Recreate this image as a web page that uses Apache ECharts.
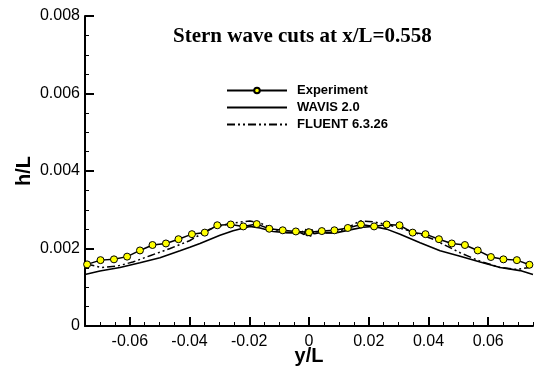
<!DOCTYPE html>
<html>
<head>
<meta charset="utf-8">
<script src="https://cdn.jsdelivr.net/npm/echarts@6/dist/echarts.min.js"></script>
<style>
  html, body { margin: 0; padding: 0; background: #fff; }
  #chart { width: 537px; height: 369px; }
</style>
</head>
<body>
<div id="chart"></div>
<script>
// Measured free-surface elevation across the stern wave cut (y/L, h/L)
const expY = [-0.0743, -0.0698, -0.0653, -0.0609, -0.0566, -0.0524, -0.0479, -0.0437, -0.0392,
  -0.0349, -0.0307, -0.0262, -0.0220, -0.0175, -0.0133, -0.0088, -0.0044, 0,
  0.0043, 0.0085, 0.0130, 0.0174, 0.0218, 0.0260, 0.0303, 0.0347, 0.0390,
  0.0435, 0.0478, 0.0522, 0.0565, 0.0609, 0.0651, 0.0696, 0.0738];
const expH = [0.00159, 0.00170, 0.00172, 0.00179, 0.00195, 0.00209, 0.00213, 0.00224, 0.00237,
  0.00241, 0.00260, 0.00262, 0.00257, 0.00263, 0.00251, 0.00247, 0.00244, 0.00242,
  0.00245, 0.00247, 0.00253, 0.00262, 0.00257, 0.00262, 0.00260, 0.00241, 0.00237,
  0.00224, 0.00213, 0.00209, 0.00195, 0.00178, 0.00172, 0.00170, 0.00158];

// WAVIS 2.0 computed wave cut
const wavisY = [-0.0750, -0.0700, -0.0633, -0.0566, -0.0499, -0.0432, -0.0399, -0.0365, -0.0298,
  -0.0254, -0.0198, -0.0164, -0.0120, -0.0075, -0.0030, -0.0016, -0.0010, -0.0005,
  0.0000, 0.0005, 0.0010, 0.0016, 0.0037, 0.0093, 0.0137, 0.0182, 0.0215,
  0.0260, 0.0305, 0.0372, 0.0439, 0.0506, 0.0573, 0.0640, 0.0707, 0.0750];
const wavisH = [0.00133, 0.00142, 0.00151, 0.00163, 0.00176, 0.00194, 0.00203, 0.00213, 0.00234,
  0.00246, 0.00257, 0.00253, 0.00244, 0.00241, 0.00241, 0.00236, 0.00250, 0.00232,
  0.00248, 0.00231, 0.00249, 0.00238, 0.00241, 0.00241, 0.00248, 0.00255, 0.00257,
  0.00250, 0.00237, 0.00215, 0.00194, 0.00180, 0.00165, 0.00151, 0.00143, 0.00133];

// FLUENT 6.3.26 computed wave cut
const fluentY = [-0.0745, -0.0695, -0.0640, -0.0590, -0.0530, -0.0465, -0.0400, -0.0332, -0.0265,
  -0.0198, -0.0164, -0.0120, -0.0075, -0.0030, -0.0014, -0.0008, -0.0003, 0.0003,
  0.0008, 0.0014, 0.0030, 0.0075, 0.0120, 0.0171, 0.0215, 0.0260, 0.0339,
  0.0416, 0.0462, 0.0506, 0.0573, 0.0640, 0.0696, 0.0738];
const fluentH = [0.00160, 0.00151, 0.00155, 0.00165, 0.00182, 0.00200, 0.00220, 0.00250, 0.00265,
  0.00271, 0.00266, 0.00250, 0.00241, 0.00240, 0.00247, 0.00233, 0.00251, 0.00234,
  0.00249, 0.00237, 0.00240, 0.00240, 0.00250, 0.00271, 0.00269, 0.00262, 0.00245,
  0.00224, 0.00206, 0.00189, 0.00167, 0.00151, 0.00146, 0.00151];

// Axis tick positions
const xMajorTicks = [-0.06, -0.04, -0.02, 0, 0.02, 0.04, 0.06];
const xMinorTicks = [];
for (let k = -15; k <= 15; k++) xMinorTicks.push(Math.round(k * 5) / 1000);

const seriesNames = ['Experiment', 'WAVIS 2.0', 'FLUENT 6.3.26'];

const pairs = (xs, ys) => xs.map((x, i) => [x, ys[i]]);

const sans = 'Liberation Sans, Arial, sans-serif';
const axisFont = { fontFamily: sans, fontSize: 16, color: '#000' };
const nameFont = { fontFamily: sans, fontSize: 20, fontWeight: 'bold', color: '#000' };

const chart = echarts.init(document.getElementById('chart'), null, { renderer: 'canvas' });
chart.setOption({
  animation: false,
  backgroundColor: '#fff',
  title: {
    text: 'Stern wave cuts at x/L=0.558',
    left: 168,
    top: 21,
    textStyle: { fontFamily: 'Liberation Serif, Times New Roman, serif', fontSize: 21, fontWeight: 'bold', color: '#000' }
  },
  legend: {
    data: [
      { name: seriesNames[0] },
      { name: seriesNames[1], itemStyle: { opacity: 0 } },
      { name: seriesNames[2], itemStyle: { opacity: 0 } }
    ],
    orient: 'vertical',
    left: 221,
    top: 79,
    itemWidth: 60,
    itemHeight: 7,
    itemGap: 4,
    textStyle: { fontFamily: sans, fontSize: 13, fontWeight: 'bold', color: '#000', padding: [0, 0, 0, 5] }
  },
  grid: { left: 85, right: 4, top: 16, bottom: 43, outerBoundsMode: 'none', containLabel: false },
  xAxis: [{
    type: 'value',
    min: -0.075,
    max: 0.075,
    position: 'bottom',
    name: 'y/L',
    nameLocation: 'middle',
    nameGap: 20,
    nameMoveOverlap: false,
    nameTextStyle: nameFont,
    splitLine: { show: false },
    axisLine: { onZero: false, lineStyle: { color: '#000', width: 2 } },
    axisTick: { show: true, inside: true, length: 4, customValues: xMinorTicks, lineStyle: { color: '#000', width: 1 } },
    axisLabel: { show: true, margin: 8, customValues: xMajorTicks, ...axisFont }
  }, {
    type: 'value',
    min: -0.075,
    max: 0.075,
    position: 'bottom',
    offset: 0,
    splitLine: { show: false },
    axisLine: { show: false, onZero: false },
    axisTick: { show: true, inside: true, length: 9, customValues: xMajorTicks, lineStyle: { color: '#000', width: 2 } },
    axisLabel: { show: false }
  }],
  yAxis: {
    type: 'value',
    min: 0,
    max: 0.008,
    interval: 0.002,
    name: 'h/L',
    nameLocation: 'middle',
    nameGap: 51,
    nameMoveOverlap: false,
    nameRotate: 90,
    nameTextStyle: nameFont,
    splitLine: { show: false },
    axisLine: { onZero: false, lineStyle: { color: '#000', width: 2 } },
    axisTick: { show: true, inside: true, length: 9, lineStyle: { color: '#000', width: 2 } },
    minorTick: { show: true, splitNumber: 4, length: 4, lineStyle: { color: '#000', width: 1 } },
    axisLabel: { margin: 5, ...axisFont }
  },
  series: [{
    name: seriesNames[1],
    type: 'line',
    data: pairs(wavisY, wavisH),
    symbol: 'none',
    color: '#000',
    lineStyle: { color: '#000', width: 1.6 },
    z: 2
  }, {
    name: seriesNames[2],
    type: 'line',
    data: pairs(fluentY, fluentH),
    symbol: 'none',
    color: '#000',
    lineStyle: { color: '#000', width: 1.5, type: [8, 3, 2, 3, 2, 3] },
    z: 2
  }, {
    name: seriesNames[0],
    type: 'line',
    data: pairs(expY, expH),
    symbol: 'circle',
    symbolSize: 7,
    color: '#000',
    itemStyle: { color: '#ffff00', borderColor: '#000', borderWidth: 1 },
    lineStyle: { color: '#000', width: 1.5 },
    z: 3
  }]
});
</script>
</body>
</html>
